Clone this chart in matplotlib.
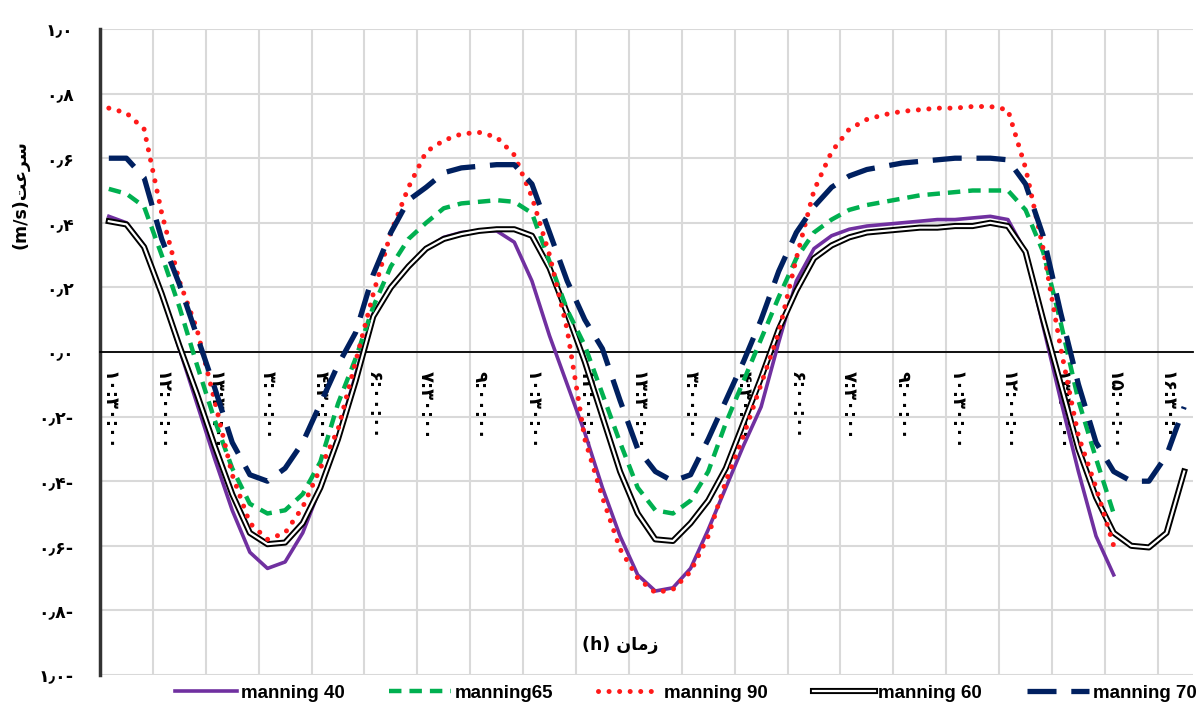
import matplotlib
matplotlib.use("Agg")
import numpy as np
import matplotlib.pyplot as plt
import matplotlib.patheffects as pe

# Velocity series (m/s), one value per half hour
manning_40 = [0.42, 0.40, 0.33, 0.18, 0.01, -0.16, -0.33, -0.49, -0.62, -0.67,
              -0.65, -0.56, -0.42, -0.26, -0.07, 0.12, 0.20, 0.265, 0.32, 0.355,
              0.37, 0.375, 0.375, 0.34, 0.22, 0.05, -0.10, -0.25, -0.42, -0.57,
              -0.69, -0.74, -0.73, -0.67, -0.55, -0.42, -0.29, -0.17, 0.03, 0.22,
              0.32, 0.36, 0.38, 0.39, 0.395, 0.40, 0.405, 0.41, 0.41, 0.415,
              0.42, 0.41, 0.31, 0.08, -0.15, -0.37, -0.57, -0.69]
manning_65 = [0.505, 0.49, 0.45, 0.30, 0.14, -0.04, -0.21, -0.36, -0.47, -0.50,
              -0.49, -0.44, -0.34, -0.16, -0.02, 0.14, 0.265, 0.35, 0.40, 0.445,
              0.46, 0.465, 0.47, 0.465, 0.43, 0.28, 0.13, 0.02, -0.13, -0.28,
              -0.42, -0.49, -0.50, -0.46, -0.37, -0.22, -0.09, 0.04, 0.17, 0.29,
              0.37, 0.41, 0.44, 0.455, 0.465, 0.475, 0.485, 0.49, 0.495, 0.50,
              0.50, 0.50, 0.44, 0.31, 0.09, -0.15, -0.33, -0.50]
manning_90 = [0.755, 0.74, 0.69, 0.43, 0.22, 0.07, -0.15, -0.38, -0.53, -0.58,
              -0.56, -0.48, -0.36, -0.24, -0.03, 0.18, 0.37, 0.51, 0.62, 0.655,
              0.675, 0.68, 0.665, 0.61, 0.48, 0.30, 0.07, -0.27, -0.45, -0.61,
              -0.70, -0.745, -0.735, -0.68, -0.57, -0.40, -0.26, -0.10, 0.06, 0.29,
              0.50, 0.62, 0.69, 0.72, 0.735, 0.745, 0.75, 0.755, 0.755, 0.76,
              0.76, 0.75, 0.57, 0.32, 0.01, -0.26, -0.42, -0.60]
manning_60 = [0.405, 0.395, 0.325, 0.18, 0.02, -0.13, -0.29, -0.44, -0.56, -0.595,
              -0.59, -0.53, -0.42, -0.27, -0.09, 0.11, 0.20, 0.265, 0.32, 0.35,
              0.365, 0.375, 0.38, 0.38, 0.36, 0.26, 0.12, -0.03, -0.20, -0.37,
              -0.50, -0.58, -0.585, -0.53, -0.46, -0.36, -0.22, -0.08, 0.07, 0.19,
              0.29, 0.33, 0.355, 0.37, 0.375, 0.38, 0.385, 0.385, 0.39, 0.39,
              0.40, 0.39, 0.31, 0.10, -0.10, -0.30, -0.45, -0.56, -0.60, -0.605,
              -0.56, -0.37]
manning_70 = [0.60, 0.60, 0.54, 0.35, 0.21, 0.05, -0.11, -0.28, -0.38, -0.40,
              -0.36, -0.28, -0.16, -0.04, 0.06, 0.24, 0.37, 0.47, 0.51, 0.555,
              0.57, 0.575, 0.58, 0.58, 0.52, 0.37, 0.22, 0.10, 0.01, -0.15,
              -0.30, -0.37, -0.40, -0.38, -0.27, -0.15, -0.03, 0.10, 0.25, 0.37,
              0.45, 0.51, 0.545, 0.565, 0.575, 0.585, 0.59, 0.595, 0.60, 0.60,
              0.60, 0.595, 0.52, 0.36, 0.12, -0.10, -0.28, -0.37, -0.40, -0.40,
              -0.32, -0.17]

time_labels = ["۱۰:۳۰:۰۰", "۱۲:۰۰:۰۰", "۱۳:۳۰:۰۰", "۳:۰۰:۰۰", "۴:۳۰:۰۰",
               "۶:۰۰:۰۰", "۷:۳۰:۰۰", "۹:۰۰:۰۰", "۱۰:۳۰:۰۰", "۱۲:۰۰:۰۰",
               "۱۳:۳۰:۰۰", "۳:۰۰:۰۰", "۴:۳۰:۰۰", "۶:۰۰:۰۰", "۷:۳۰:۰۰",
               "۹:۰۰:۰۰", "۱۰:۳۰:۰۰", "۱۲:۰۰:۰۰", "۱۳:۳۰:۰۰", "۱۵:۰۰:۰۰",
               "۱۶:۳۰:۰۰"]
y_values = [-1.0, -0.8, -0.6, -0.4, -0.2, 0.0, 0.2, 0.4, 0.6, 0.8, 1.0]
y_labels = ["۱٫۰-", "۰٫۸-", "۰٫۶-", "۰٫۴-", "۰٫۲-", "۰٫۰",
            "۰٫۲", "۰٫۴", "۰٫۶", "۰٫۸", "۱٫۰"]

# Persian words in visual (shaped, left-to-right) order
speed_word = "\ufe96\ufecb\ufeae\ufeb3"   # سرعت
time_word = "\ufee5\ufe8e\ufee3\ufeaf"    # زمان

fig = plt.figure(figsize=(12.03, 7.13), dpi=100)
ax = fig.add_axes([100 / 1203, 1 - 675 / 713, 1093 / 1203, (675 - 29) / 713])

x_short = np.arange(len(manning_40))
x_long = np.arange(len(manning_60))

p40, = ax.plot(x_short, manning_40, color="#7030A0", lw=2.6, zorder=3)
# double line: white core with black outline
k60, = ax.plot(x_long, manning_60, color="white", lw=1.6, zorder=3.5,
               path_effects=[pe.Stroke(linewidth=4.4, foreground="black"), pe.Normal()])
g65, = ax.plot(x_short, manning_65, color="#00B050", lw=3.2,
               linestyle=(0, (2.8, 1.8)), zorder=4)
r90, = ax.plot(x_short, manning_90, color="#FF1A1A", lw=3.6,
               linestyle=(0, (0.01, 2.1)), dash_capstyle="round", zorder=5)
b70, = ax.plot(x_long, manning_70, color="#002060", lw=3.8,
               linestyle=(0, (5.5, 2.8)), zorder=6)

ax.set_xlim(-0.5, 61.5)
ax.set_ylim(-1, 1)

# axes styling
for side in ["top", "right"]:
    ax.spines[side].set_visible(False)
ax.spines["left"].set_linewidth(2.5)
ax.spines["left"].set_color("#333333")
ax.spines["bottom"].set_position(("data", 0))
ax.spines["bottom"].set_linewidth(1.3)
ax.spines["bottom"].set_color("black")
ax.spines["bottom"].set_zorder(2.5)

ax.set_yticks(y_values)
ax.set_yticklabels(y_labels, fontsize=12.5, fontweight="bold", family="DejaVu Sans")
ax.tick_params(axis="y", length=0, pad=19)

ax.set_xticks(np.arange(0, 61, 3))
ax.set_xticklabels(time_labels, rotation=270, fontsize=13, fontweight="bold",
                   family="DejaVu Sans", va="top", ha="center")
ax.set_xticks(np.arange(2.5, 61, 3), minor=True)
ax.tick_params(axis="x", which="both", length=0, pad=14)

ax.grid(True, axis="y", color="#D9D9D9", lw=1.5, zorder=0)
ax.grid(True, axis="x", which="minor", color="#D9D9D9", lw=1.5, zorder=0)
ax.set_axisbelow(True)

fig.text(620 / 1203, 1 - 645 / 713, "(h) " + time_word, ha="center", va="center",
         fontsize=12.5, fontweight="bold", family="DejaVu Sans")
fig.text(20 / 1203, 1 - 195 / 713, "(m/s)" + speed_word, ha="center", va="center",
         rotation=90, fontsize=12.5, fontweight="bold", family="DejaVu Sans")

fig.legend(handles=[p40, g65, r90, k60, b70],
           labels=["manning 40", "manning65", "manning 90", "manning 60", "manning 70"],
           ncol=5, loc="center", bbox_to_anchor=(0.57, 1 - 693 / 713),
           frameon=False, handlelength=3.3, handletextpad=0.2, columnspacing=2.4,
           prop={"family": ["Liberation Sans", "DejaVu Sans"],
                 "weight": "bold", "size": 13.5})

fig.savefig("out.png", dpi=100)
